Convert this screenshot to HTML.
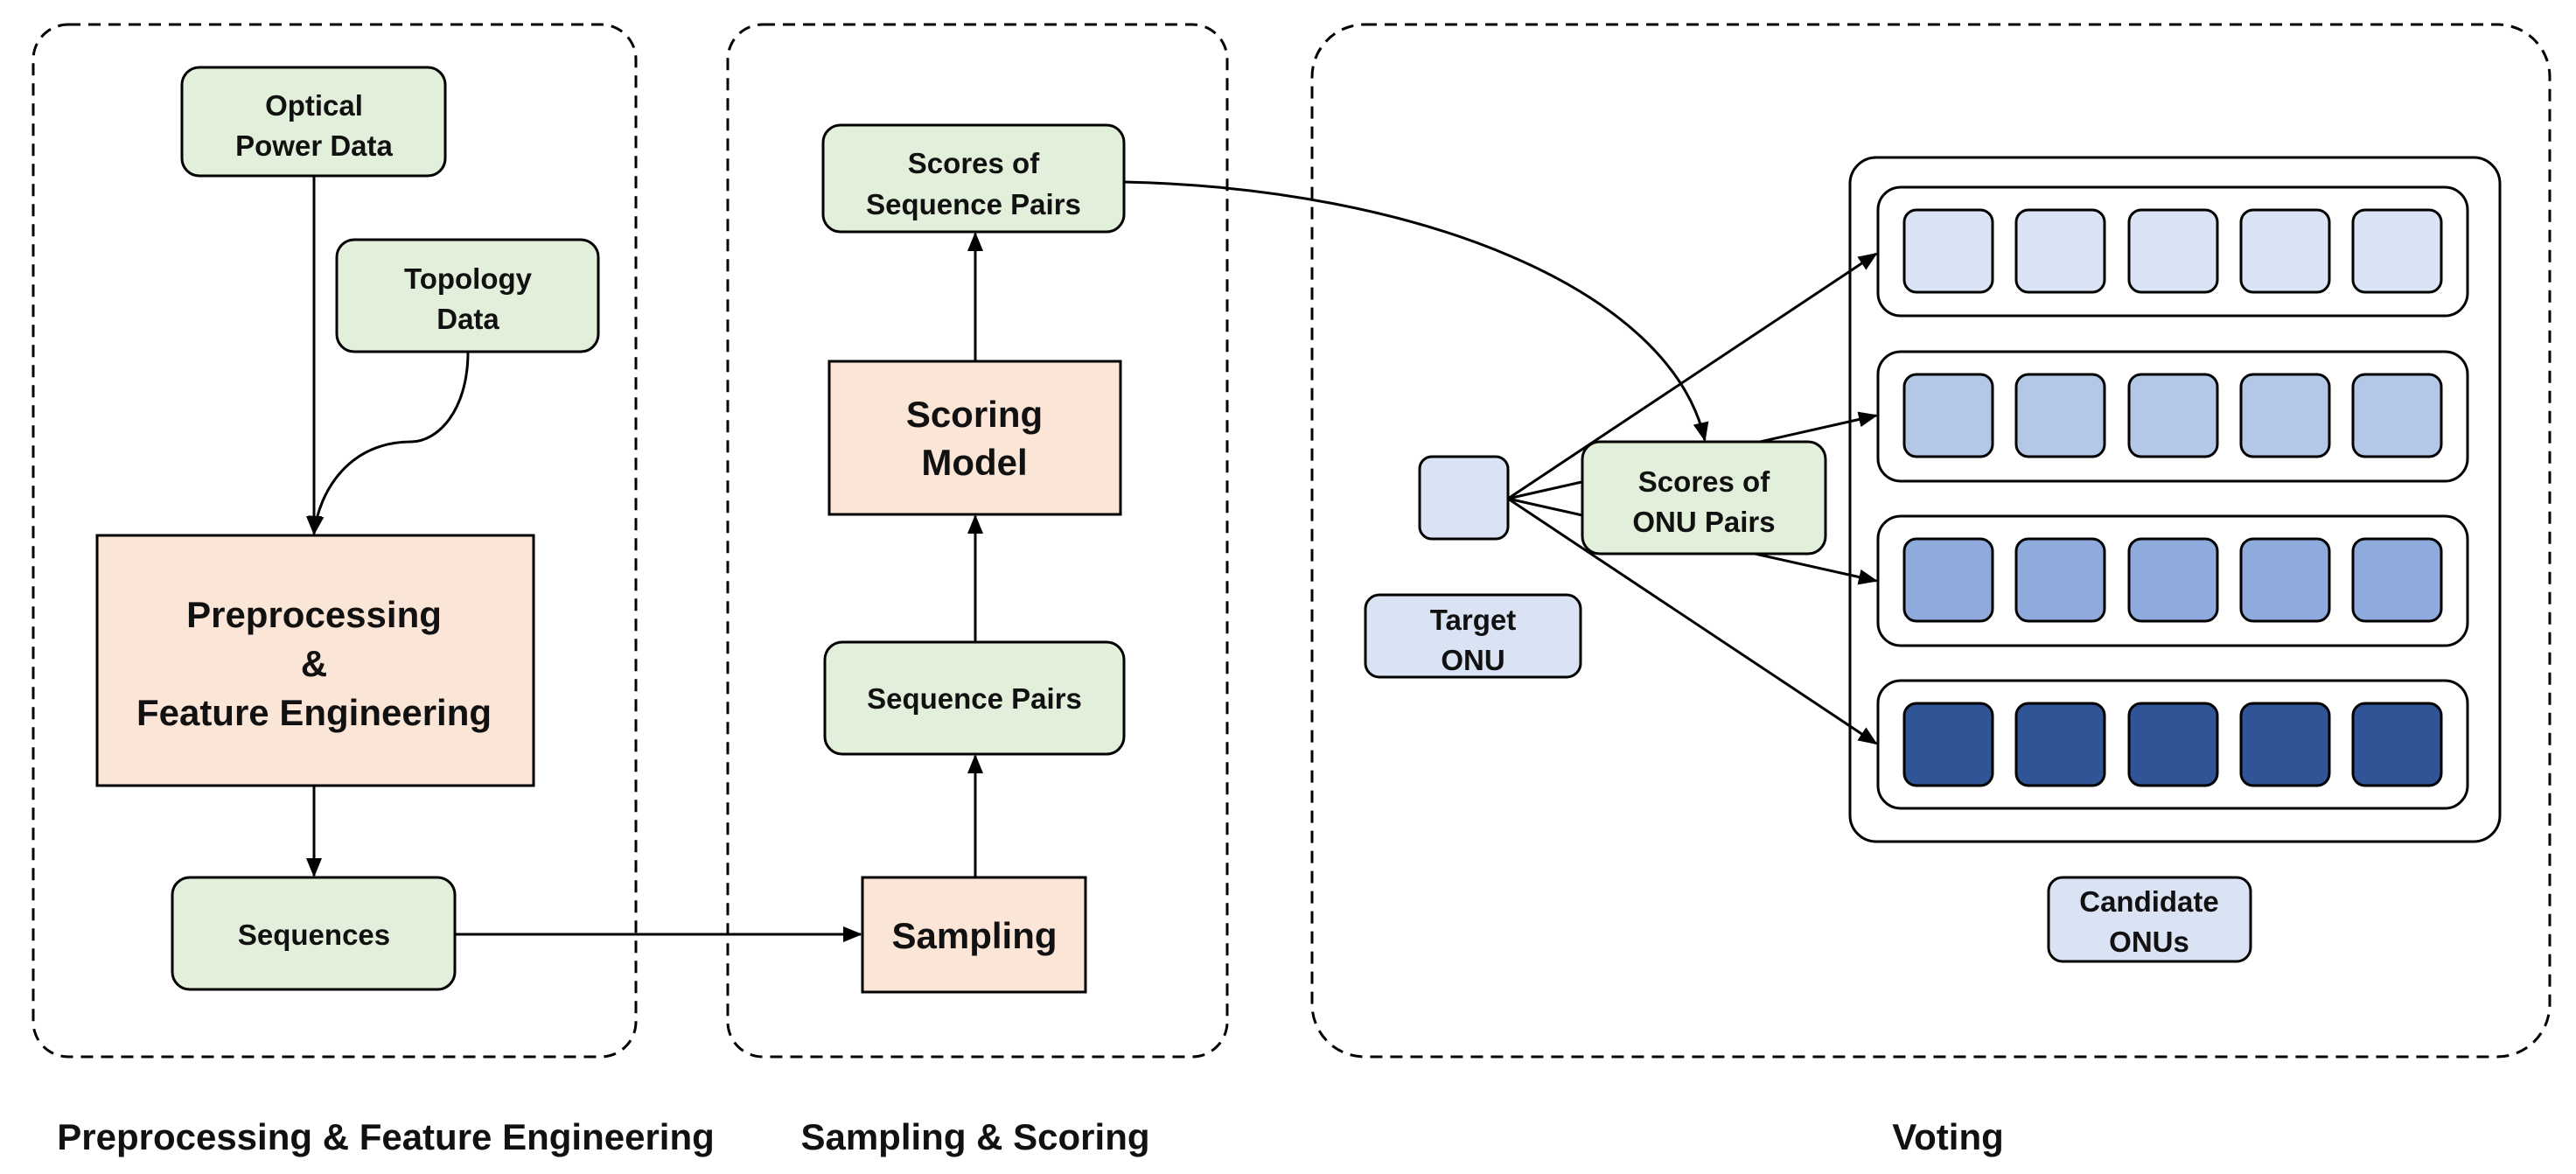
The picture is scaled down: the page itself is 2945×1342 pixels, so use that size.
<!DOCTYPE html>
<html><head><meta charset="utf-8"><style>
html,body{margin:0;padding:0;background:#fff}
svg{display:block}
text{font-family:"Liberation Sans","Noto Sans CJK SC",sans-serif;font-weight:bold;fill:#111;text-anchor:middle}
</style></head><body>
<svg width="2945" height="1342" viewBox="0 0 2945 1342" xmlns="http://www.w3.org/2000/svg">
<defs>
<marker id="b" markerWidth="22" markerHeight="22" refX="20" refY="11" orient="auto" markerUnits="userSpaceOnUse" viewBox="0 0 22 22">
<path d="M0,2 L22,11 L0,20 z" fill="#000"/></marker>
</defs>
<g fill="none" stroke="#000" stroke-width="3" stroke-dasharray="14,9">
<rect x="38" y="28" width="689" height="1180" rx="40"/>
<rect x="832" y="28" width="571" height="1180" rx="40"/>
<rect x="1500" y="28" width="1415" height="1180" rx="60"/>
</g>
<!-- candidate boxes -->
<g stroke="#000" stroke-width="3">
<rect x="2115" y="180" width="743" height="782" rx="30" fill="#fff"/>
<rect x="2147" y="214" width="674" height="147" rx="26" fill="#fff"/>
<rect x="2147" y="402" width="674" height="148" rx="26" fill="#fff"/>
<rect x="2147" y="590" width="674" height="148" rx="26" fill="#fff"/>
<rect x="2147" y="778" width="674" height="146" rx="26" fill="#fff"/>
</g>
<!-- connectors -->
<g fill="none" stroke="#000" stroke-width="3">
<line x1="359" y1="201" x2="359" y2="610" marker-end="url(#b)"/>
<path d="M535,402 C535,470 500,505 470,505 C400,505 365,560 359,610" marker-end="url(#b)"/>
<line x1="359" y1="898" x2="359" y2="1001" marker-end="url(#b)"/>
<line x1="520" y1="1068" x2="984" y2="1068" marker-end="url(#b)"/>
<line x1="1115" y1="1003" x2="1115" y2="864" marker-end="url(#b)"/>
<line x1="1115" y1="734" x2="1115" y2="590" marker-end="url(#b)"/>
<line x1="1115" y1="413" x2="1115" y2="267" marker-end="url(#b)"/>
<path d="M1285,208 C1620,215 1910,330 1949,503" marker-end="url(#b)"/>
<line x1="1724" y1="570" x2="2145" y2="290" marker-end="url(#b)"/>
<line x1="1724" y1="570" x2="2145" y2="475" marker-end="url(#b)"/>
<line x1="1724" y1="570" x2="2145" y2="664" marker-end="url(#b)"/>
<line x1="1724" y1="570" x2="2145" y2="850" marker-end="url(#b)"/>
</g>
<!-- nodes -->
<g stroke="#000" stroke-width="3">
<rect x="208" y="77" width="301" height="124" rx="20" fill="#e2efda"/>
<rect x="385" y="274" width="299" height="128" rx="20" fill="#e2efda"/>
<rect x="111" y="612" width="499" height="286" fill="#fbe5d6"/>
<rect x="197" y="1003" width="323" height="128" rx="20" fill="#e2efda"/>
<rect x="941" y="143" width="344" height="122" rx="20" fill="#e2efda"/>
<rect x="948" y="413" width="333" height="175" fill="#fbe5d6"/>
<rect x="943" y="734" width="342" height="128" rx="20" fill="#e2efda"/>
<rect x="986" y="1003" width="255" height="131" fill="#fbe5d6"/>
<rect x="1623" y="522" width="101" height="94" rx="14" fill="#dae3f3"/>
<rect x="1561" y="680" width="246" height="94" rx="16" fill="#dae3f3"/>
<rect x="1809" y="505" width="278" height="128" rx="20" fill="#e2efda"/>
<rect x="2342" y="1003" width="231" height="96" rx="16" fill="#dae3f3"/>
</g>
<g stroke="#000" stroke-width="3">
<g fill="#dae3f3">
<rect x="2177" y="240" width="101" height="94" rx="14"/><rect x="2305" y="240" width="101" height="94" rx="14"/><rect x="2434" y="240" width="101" height="94" rx="14"/><rect x="2562" y="240" width="101" height="94" rx="14"/><rect x="2690" y="240" width="101" height="94" rx="14"/>
</g>
<g fill="#b4c7e7">
<rect x="2177" y="428" width="101" height="94" rx="14"/><rect x="2305" y="428" width="101" height="94" rx="14"/><rect x="2434" y="428" width="101" height="94" rx="14"/><rect x="2562" y="428" width="101" height="94" rx="14"/><rect x="2690" y="428" width="101" height="94" rx="14"/>
</g>
<g fill="#8faadc">
<rect x="2177" y="616" width="101" height="94" rx="14"/><rect x="2305" y="616" width="101" height="94" rx="14"/><rect x="2434" y="616" width="101" height="94" rx="14"/><rect x="2562" y="616" width="101" height="94" rx="14"/><rect x="2690" y="616" width="101" height="94" rx="14"/>
</g>
<g fill="#2f5597">
<rect x="2177" y="804" width="101" height="94" rx="14"/><rect x="2305" y="804" width="101" height="94" rx="14"/><rect x="2434" y="804" width="101" height="94" rx="14"/><rect x="2562" y="804" width="101" height="94" rx="14"/><rect x="2690" y="804" width="101" height="94" rx="14"/>
</g>
</g>
<!-- text -->
<g font-size="33">
<text x="359" y="132">Optical</text><text x="359" y="178">Power Data</text>
<text x="535" y="330">Topology</text><text x="535" y="376">Data</text>
<text x="359" y="1080">Sequences</text>
<text x="1113" y="198">Scores of</text><text x="1113" y="245">Sequence Pairs</text>
<text x="1114" y="810">Sequence Pairs</text>
<text x="1684" y="720">Target</text><text x="1684" y="766">ONU</text>
<text x="1948" y="562">Scores of</text><text x="1948" y="608">ONU Pairs</text>
<text x="2457" y="1042">Candidate</text><text x="2457" y="1088">ONUs</text>
</g>
<g font-size="42">
<text x="359" y="717">Preprocessing</text><text x="359" y="773">&amp;</text><text x="359" y="829">Feature Engineering</text>
<text x="1114" y="488">Scoring</text><text x="1114" y="543">Model</text>
<text x="1114" y="1084">Sampling</text>
</g>
<g font-size="42">
<text x="441" y="1314">Preprocessing &amp; Feature Engineering</text>
<text x="1115" y="1314">Sampling &amp; Scoring</text>
<text x="2227" y="1314">Voting</text>
</g>
</svg>
</body></html>
